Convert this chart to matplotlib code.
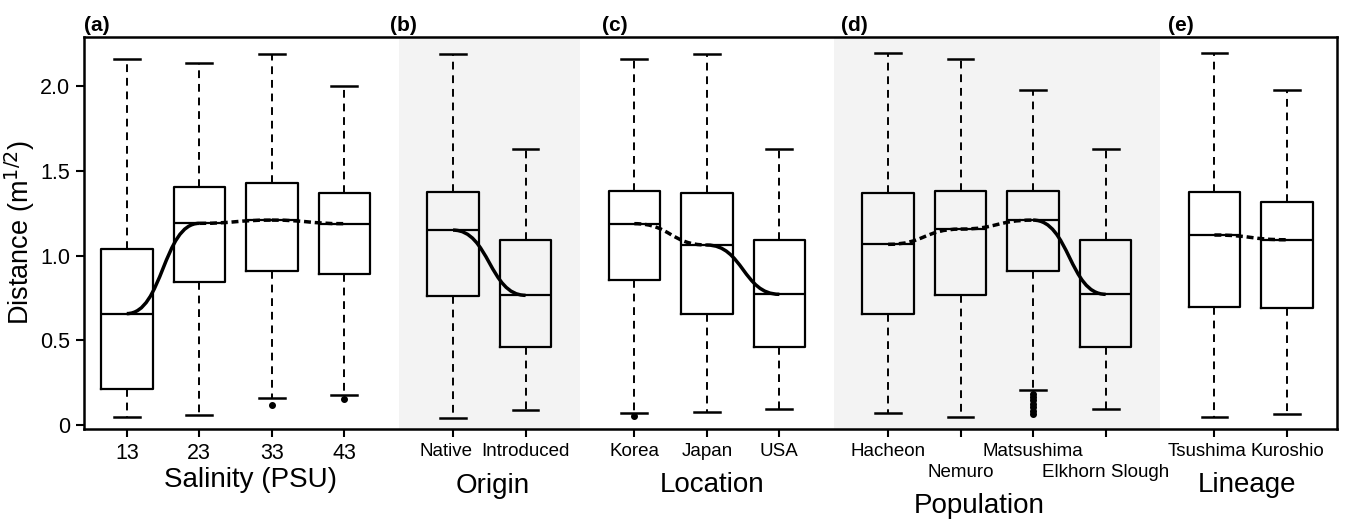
import matplotlib
matplotlib.use("Agg")
import matplotlib.pyplot as plt
from matplotlib.path import Path
from matplotlib.patches import PathPatch
from matplotlib.transforms import ScaledTranslation

plt.rcParams["font.family"] = ["Liberation Sans", "DejaVu Sans"]

# ---- datos ----
groups = ["Salinity (PSU)", "Origin", "Location", "Population", "Lineage"]
panel_tags = ["(a)", "(b)", "(c)", "(d)", "(e)"]
group_labels = [
    ["13", "23", "33", "43"],
    ["Native", "Introduced"],
    ["Korea", "Japan", "USA"],
    ["Hacheon", "Nemuro", "Matsushima", "Elkhorn Slough"],
    ["Tsushima", "Kuroshio"],
]
whis_hi = [2.163, 2.134, 2.190, 1.998,
           2.187, 1.626,
           2.163, 2.190, 1.628,
           2.193, 2.163, 1.975, 1.628,
           2.193, 1.975]
q3 = [1.036, 1.404, 1.426, 1.371,
      1.373, 1.090,
      1.382, 1.369, 1.091,
      1.371, 1.382, 1.382, 1.093,
      1.375, 1.316]
med = [0.657, 1.190, 1.209, 1.188,
       1.150, 0.765,
       1.188, 1.062, 0.771,
       1.066, 1.156, 1.209, 0.771,
       1.121, 1.093]
q1 = [0.214, 0.844, 0.910, 0.891,
      0.761, 0.460,
      0.857, 0.655, 0.462,
      0.655, 0.769, 0.910, 0.462,
      0.698, 0.690]
whis_lo = [0.049, 0.061, 0.157, 0.177,
           0.043, 0.088,
           0.069, 0.077, 0.093,
           0.073, 0.049, 0.206, 0.093,
           0.049, 0.063]
fliers = [[], [], [0.116], [0.153],
          [], [],
          [0.052], [], [],
          [], [], [0.185, 0.165, 0.145, 0.125, 0.105, 0.085, 0.063], [],
          [], []]
# tramos entre medianas: "-" significativo, "--" no significativo
trend_styles = [["-", "--", "--"], ["-"], ["--", "-"], ["--", "--", "-"], ["--"]]

GAP = 1.5


def main():
    # posiciones a partir de la estructura de grupos
    positions, spans, x = [], [], 0.0
    for labs in group_labels:
        start = x
        for _ in labs:
            positions.append(x)
            x += 1
        spans.append((start, x - 1))
        x = x - 1 + GAP

    fig = plt.figure(figsize=(13.48, 5.21), dpi=100)
    ax = fig.add_axes([0.0623, 0.1766, 0.9295, 0.7524])

    # sombreado de los paneles (b) y (d)
    for gi in (1, 3):
        a, b = spans[gi]
        ax.axvspan(a - 0.75, b + 0.75, color="#f3f3f3", lw=0, zorder=0)

    stats = []
    for i in range(len(med)):
        stats.append(dict(med=med[i], q1=q1[i], q3=q3[i],
                          whislo=whis_lo[i], whishi=whis_hi[i], fliers=fliers[i]))
    ax.bxp(stats, positions=positions, widths=0.71, patch_artist=False,
           boxprops=dict(color="black", lw=1.6),
           medianprops=dict(color="black", lw=1.6),
           whiskerprops=dict(color="black", lw=1.4, linestyle=(0, (4, 3))),
           capprops=dict(color="black", lw=1.8),
           flierprops=dict(marker="o", markersize=4, markerfacecolor="black",
                           markeredgecolor="black"),
           manage_ticks=False, zorder=3)

    # curvas de tendencia entre medianas
    k = 0
    for gi, labs in enumerate(group_labels):
        for j in range(len(labs) - 1):
            x0, x1 = positions[k + j], positions[k + j + 1]
            y0, y1 = med[k + j], med[k + j + 1]
            path = Path([(x0, y0), (x0 + 0.5, y0), (x1 - 0.5, y1), (x1, y1)],
                        [Path.MOVETO, Path.CURVE4, Path.CURVE4, Path.CURVE4])
            ls = trend_styles[gi][j]
            patch = PathPatch(path, fill=False, color="black", lw=2.5,
                              linestyle="-" if ls == "-" else (0, (2.0, 1.1)),
                              capstyle="butt", zorder=4)
            ax.add_patch(patch)
        k += len(labs)

    ax.set_xlim(-0.59, positions[-1] + 0.69)
    ax.set_ylim(-0.024, 2.29)
    ax.set_yticks([0, 0.5, 1.0, 1.5, 2.0])
    ax.set_yticklabels(["0", "0.5", "1.0", "1.5", "2.0"], fontsize=15.5)
    ax.set_ylabel("Distance (m$^{1/2}$)", fontsize=19.5, labelpad=2)

    # "Native" y "Tsushima" van algo desplazadas a la izquierda en el original
    shifted = ("Native", "Tsushima")
    all_labels = [lab for labs in group_labels for lab in labs]
    ax.set_xticks(positions)
    ticklabels = ax.set_xticklabels(["" if lab in shifted else lab for lab in all_labels])
    for t, lab in zip(ticklabels, all_labels):
        t.set_fontsize(15.5 if lab.isdigit() else 13.5)
    ax.tick_params(axis="both", direction="out", length=6, width=1.5, pad=4)
    off = ScaledTranslation(-0.07, -10 / 72, fig.dpi_scale_trans)
    for pos, lab in zip(positions, all_labels):
        if lab in shifted:
            ax.text(pos, 0, lab, fontsize=13.5, ha="center", va="top",
                    transform=ax.get_xaxis_transform() + off, clip_on=False)

    # etiquetas escalonadas en Population (Nemuro, Elkhorn Slough más abajo)
    ticks = ax.xaxis.get_major_ticks()
    k = sum(len(g) for g in group_labels[:3])
    for j in (1, 3):
        ticks[k + j].set_pad(19)

    for sp in ax.spines.values():
        sp.set_linewidth(1.8)

    # etiquetas de grupo y de panel
    group_x = [1.71, 5.05, 8.07, 11.75, 15.45]
    group_y = [-0.325, -0.362, -0.352, -0.48, -0.352]
    tag_x = [-0.59, 3.63, 6.55, 9.85, 14.36]
    for gi, name in enumerate(groups):
        ax.text(group_x[gi], group_y[gi], name, fontsize=20, ha="center", va="center",
                clip_on=False)
        ax.text(tag_x[gi], 2.36, panel_tags[gi], fontsize=15, fontweight="bold",
                ha="left", va="center", clip_on=False)

    fig.savefig("out.png", dpi=100)
    plt.close(fig)


if __name__ == "__main__":
    main()
